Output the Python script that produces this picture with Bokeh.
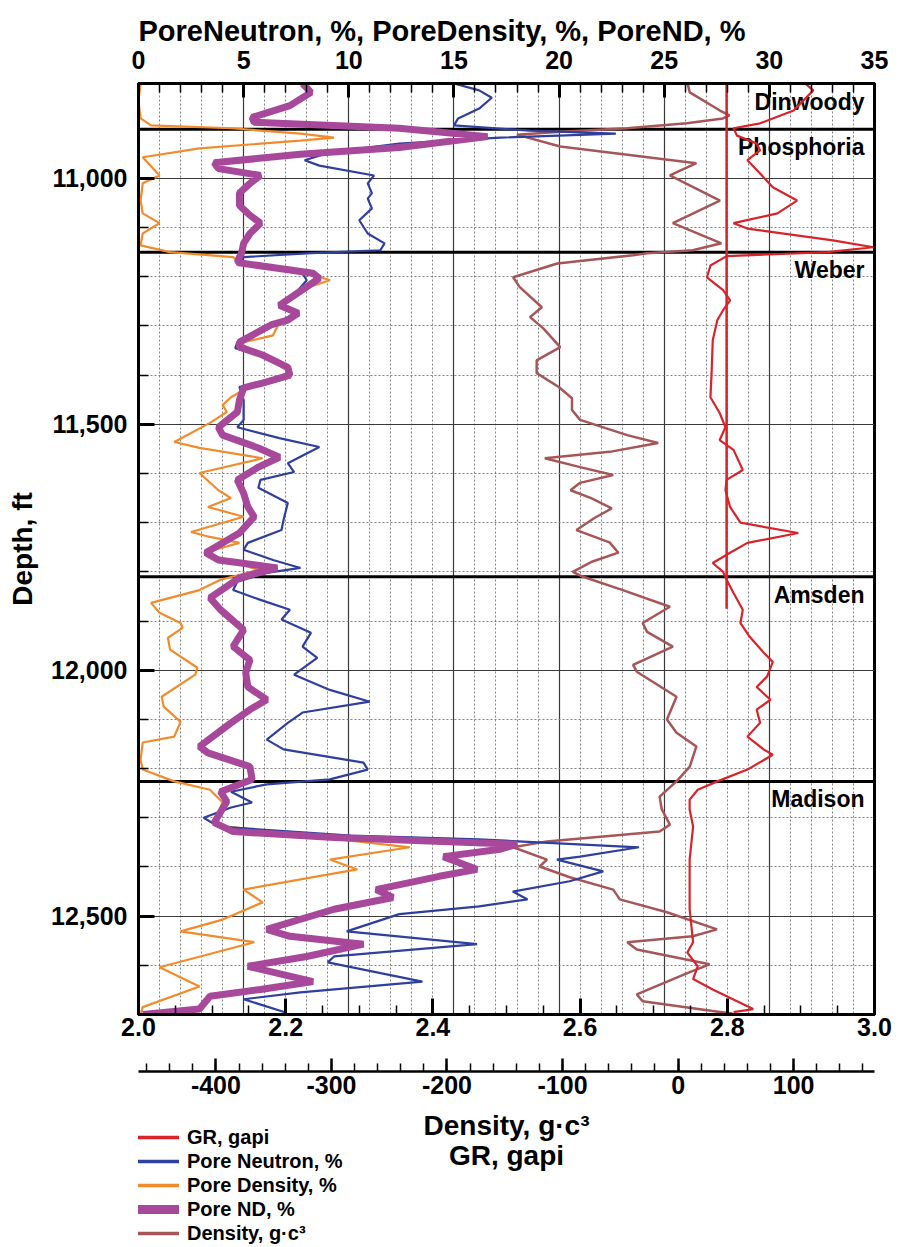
from bokeh.plotting import figure
from bokeh.layouts import column
from bokeh.models import (Range1d, LinearAxis, SingleIntervalTicker, NumeralTickFormatter,
                          Legend, LegendItem, Label)
from bokeh.core.properties import value
from bokeh.embed import file_html
from bokeh.resources import INLINE

# ---------------- data ----------------
depth_top, depth_bottom = 10807, 12700

formation_names = ["Dinwoody", "Phosphoria", "Weber", "Amsden", "Madison"]
formation_tops = [10807, 10900, 11150, 11810, 12226]

gr_cutoff_api = 42
gr_cutoff_depth = [10807, 11875]

gr_depth = [10807, 10821, 10862, 10888, 10898, 10913, 10929, 10943, 10963, 10990, 11018, 11045,
            11071, 11091, 11102, 11126, 11140, 11150, 11158, 11177, 11201, 11227, 11248, 11268,
            11288, 11329, 11396, 11445, 11477, 11506, 11532, 11552, 11593, 11613, 11634, 11668,
            11700, 11721, 11741, 11761, 11782, 11800, 11816, 11843, 11877, 11904, 11932, 11964,
            11983, 12013, 12034, 12060, 12080, 12107, 12135, 12161, 12172, 12202, 12226, 12243,
            12263, 12283, 12318, 12385, 12486, 12553, 12574, 12602, 12628, 12649, 12683, 12689,
            12695]
gr_api = [110, 117, 100, 71, 48, 51, 68, 71, 60, 71, 82, 103,
          86, 48, 60, 134, 169, 129, 42, 28, 25, 39, 45, 39,
          34, 30, 29, 28, 36, 41, 36, 48, 56, 42, 41, 45,
          54, 104, 60, 45, 30, 39, 42, 48, 56, 54, 62, 74,
          82, 77, 68, 80, 68, 71, 60, 74, 82, 60, 34, 17,
          10, 10, 13, 10, 10, 13, 8, 17, 13, 30, 60, 65,
          48]

neu_depth = [10807, 10821, 10836, 10858, 10878, 10892, 10903, 10909, 10917, 10929, 10947, 10963,
             10974, 10994, 11010, 11030, 11041, 11061, 11085, 11112, 11132, 11146, 11152, 11160,
             11171, 11193, 11207, 11227, 11258, 11274, 11298, 11302, 11333, 11345, 11359, 11384,
             11400, 11424, 11451, 11491, 11506, 11528, 11546, 11579, 11597, 11613, 11629, 11660,
             11694, 11715, 11741, 11755, 11776, 11792, 11802, 11820, 11837, 11857, 11877, 11897,
             11924, 11952, 11975, 12009, 12040, 12064, 12086, 12107, 12141, 12161, 12188, 12202,
             12222, 12232, 12247, 12269, 12279, 12300, 12318, 12336, 12344, 12360, 12379, 12385,
             12409, 12429, 12450, 12466, 12480, 12496, 12531, 12557, 12582, 12594, 12633, 12655,
             12669, 12696]
neu_pct = [15.0, 16.2, 16.8, 16.2, 15.2, 15.0, 18.6, 22.7, 17.2, 12.4, 9.1, 7.9,
           8.6, 11.2, 10.9, 11.1, 10.9, 11.1, 10.5, 10.9, 11.7, 11.5, 8.2, 5.0,
           4.8, 7.8, 8.0, 7.6, 6.8, 7.4, 6.5, 5.9, 4.7, 4.6, 5.8, 7.0,
           7.1, 4.8, 5.0, 5.0, 4.7, 6.7, 8.6, 7.1, 7.4, 5.8, 5.7, 7.1,
           6.9, 6.8, 5.2, 5.0, 6.4, 7.7, 6.1, 4.7, 4.5, 5.8, 7.2, 6.8,
           8.2, 7.8, 8.5, 7.4, 9.1, 11.0, 7.8, 7.1, 6.1, 6.9, 10.7, 10.9,
           9.1, 6.1, 4.4, 5.4, 4.4, 3.1, 3.8, 10.1, 16.2, 23.8, 21.0, 19.9,
           22.1, 20.5, 17.8, 18.5, 16.2, 12.4, 9.9, 16.1, 9.3, 9.0, 13.5, 7.7,
           5.0, 7.0]

dpor_depth = [10807, 10842, 10878, 10892, 10898, 10909, 10917, 10923, 10939, 10957, 10994, 11010,
              11045, 11071, 11091, 11112, 11136, 11150, 11160, 11171, 11187, 11207, 11227, 11258,
              11274, 11292, 11319, 11335, 11359, 11394, 11416, 11430, 11445, 11461, 11475, 11497,
              11536, 11548, 11569, 11599, 11634, 11650, 11668, 11688, 11719, 11729, 11741, 11761,
              11796, 11816, 11837, 11863, 11883, 11904, 11914, 11934, 11958, 11995, 12009, 12054,
              12074, 12105, 12135, 12147, 12182, 12202, 12226, 12243, 12269, 12308, 12318, 12360,
              12385, 12405, 12446, 12472, 12507, 12531, 12553, 12604, 12643, 12685, 12700]
dpor_pct = [0.1, 0.0, 0.1, 0.6, 4.4, 7.7, 9.3, 7.7, 2.9, 0.2, 1.0, 0.2,
            0.1, 0.2, 1.0, 0.2, 0.1, 1.5, 4.5, 4.8, 7.7, 9.1, 7.7, 6.7,
            7.6, 6.7, 6.4, 4.8, 5.9, 7.2, 5.9, 5.0, 4.4, 4.0, 4.2, 3.4,
            1.7, 2.9, 5.9, 2.9, 3.8, 4.4, 3.3, 5.0, 2.5, 3.4, 4.8, 3.1,
            5.7, 3.9, 2.9, 0.6, 1.0, 2.0, 2.1, 1.4, 1.5, 2.8, 2.7, 1.1,
            1.2, 2.0, 1.7, 0.2, 0.1, 0.2, 1.7, 3.4, 4.0, 3.6, 4.2, 12.9,
            9.1, 10.4, 5.0, 5.9, 4.0, 2.0, 5.5, 1.0, 2.9, 0.2, 0.1]

nd_depth = [10807, 10825, 10852, 10876, 10886, 10898, 10915, 10937, 10951, 10968, 10980, 10994,
            11010, 11030, 11055, 11075, 11091, 11112, 11132, 11152, 11160, 11171, 11193, 11203,
            11258, 11274, 11288, 11298, 11333, 11343, 11359, 11384, 11400, 11416, 11426, 11451,
            11475, 11506, 11522, 11548, 11567, 11587, 11613, 11640, 11668, 11688, 11721, 11761,
            11776, 11792, 11812, 11853, 11877, 11918, 11938, 11952, 11979, 12005, 12034, 12060,
            12080, 12107, 12155, 12168, 12196, 12222, 12247, 12267, 12310, 12328, 12340, 12354,
            12364, 12379, 12405, 12419, 12446, 12462, 12486, 12527, 12541, 12557, 12582, 12602,
            12633, 12649, 12663, 12689, 12700]
nd_pct = [7.8, 8.2, 7.2, 5.4, 5.5, 12.4, 16.6, 12.4, 7.7, 3.6, 3.8, 5.8,
          5.3, 4.8, 4.8, 5.3, 5.8, 5.3, 5.0, 4.9, 4.8, 4.7, 8.3, 8.6,
          6.7, 7.6, 7.1, 6.3, 4.8, 4.8, 5.9, 7.1, 7.2, 5.9, 5.0, 4.8,
          4.7, 3.8, 4.0, 5.7, 6.7, 5.7, 4.7, 5.0, 5.2, 5.5, 4.8, 3.2,
          3.8, 6.6, 4.8, 3.4, 3.9, 5.0, 4.7, 4.5, 5.3, 5.1, 5.2, 6.1,
          5.3, 4.4, 2.9, 3.3, 5.3, 5.4, 3.9, 4.2, 3.6, 4.5, 9.3, 18.0,
          17.2, 14.5, 16.1, 14.3, 11.3, 12.1, 9.3, 6.1, 7.2, 10.7, 8.0, 5.2,
          8.3, 5.8, 3.4, 2.9, 0.2]

rhob_depth = [10807, 10825, 10862, 10872, 10878, 10888, 10898, 10905, 10911, 10935, 10969, 10994,
              11045, 11091, 11132, 11146, 11152, 11156, 11173, 11201, 11221, 11262, 11282, 11305,
              11343, 11370, 11396, 11424, 11447, 11471, 11491, 11522, 11538, 11556, 11569, 11587,
              11603, 11619, 11634, 11650, 11671, 11690, 11715, 11740, 11761, 11780, 11800, 11810,
              11837, 11871, 11904, 11922, 11952, 11989, 12003, 12054, 12100, 12127, 12155, 12196,
              12226, 12257, 12283, 12314, 12328, 12348, 12360, 12385, 12399, 12421, 12446, 12466,
              12492, 12527, 12541, 12553, 12568, 12598, 12614, 12659, 12673, 12693, 12698]
rhob = [2.746, 2.749, 2.790, 2.803, 2.794, 2.745, 2.664, 2.573, 2.514, 2.573, 2.758, 2.722,
        2.790, 2.726, 2.792, 2.753, 2.691, 2.672, 2.569, 2.509, 2.518, 2.548, 2.532, 2.550,
        2.573, 2.541, 2.541, 2.571, 2.589, 2.589, 2.600, 2.664, 2.706, 2.640, 2.552, 2.600,
        2.645, 2.600, 2.587, 2.615, 2.643, 2.620, 2.595, 2.640, 2.652, 2.615, 2.590, 2.604,
        2.658, 2.722, 2.685, 2.691, 2.726, 2.672, 2.677, 2.731, 2.718, 2.731, 2.758, 2.749,
        2.731, 2.708, 2.711, 2.722, 2.708, 2.555, 2.509, 2.555, 2.545, 2.586, 2.645, 2.654,
        2.718, 2.786, 2.753, 2.664, 2.677, 2.776, 2.749, 2.677, 2.685, 2.780, 2.807]

top_title = "PoreNeutron, %, PoreDensity, %, PoreND, %"
legend_labels = ["GR, gapi", "Pore Neutron, %", "Pore Density, %", "Pore ND, %",
                 "Density, g\u00b7c\u00b3"]
bottom_title = ["Density, g\u00b7c\u00b3", "GR, gapi"]

# ---------------- styling ----------------
FONT = "Liberation Sans"
C_GR, C_NEU, C_DPOR, C_ND, C_RHOB = "#d8232a", "#2e3f9e", "#f28b2c", "#a8489b", "#a65656"
W = 898
H_MAIN = 1106
H_LEG = 1247 - H_MAIN
FRAME_LEFT = 138

p = figure(width=W, height=H_MAIN, output_backend="svg", toolbar_location=None,
           x_range=Range1d(0, 35), y_range=Range1d(depth_bottom, depth_top),
           x_axis_location="above",
           min_border_left=FRAME_LEFT, min_border_right=24, min_border_top=83,
           min_border_bottom=H_MAIN - 1014)
p.extra_x_ranges = {"dens": Range1d(2.0, 3.0), "gr": Range1d(-467, 170)}
p.background_fill_color = "white"
p.border_fill_color = "white"
p.outline_line_color = "black"
p.outline_line_width = 3

p.title.text = top_title
p.title.align = "left"
p.title.offset = 0
p.title.standoff = 2
p.title.text_font = FONT
p.title.text_font_style = "bold"
p.title.text_font_size = "29px"
p.title.text_color = "black"

# top axis: porosity
ax = p.xaxis[0]
ax.ticker = SingleIntervalTicker(interval=5, num_minor_ticks=5)

# left axis: depth
ay = p.yaxis[0]
ay.ticker = SingleIntervalTicker(interval=500, num_minor_ticks=5)
ay.formatter = NumeralTickFormatter(format="0,0")
ay.axis_label = "Depth, ft"

dens_axis = LinearAxis(x_range_name="dens",
                       ticker=SingleIntervalTicker(interval=0.2, num_minor_ticks=4),
                       formatter=NumeralTickFormatter(format="0.0"))
dens_axis.axis_label = "\u00a0"
gr_axis = LinearAxis(x_range_name="gr",
                     ticker=SingleIntervalTicker(interval=100, num_minor_ticks=5),
                     formatter=NumeralTickFormatter(format="0"))
p.add_layout(dens_axis, "below")
p.add_layout(gr_axis, "below")

for a in (ax, ay, dens_axis, gr_axis):
    a.major_label_text_font = FONT
    a.major_label_text_font_style = "bold"
    a.major_label_text_font_size = "25px"
    a.major_label_text_color = "black"
    a.axis_label_text_font = FONT
    a.axis_label_text_font_style = "bold"
    a.axis_label_text_font_size = "28px"
    a.axis_label_text_color = "black"
    a.axis_line_color = "black"
    a.axis_line_width = 3
    a.major_tick_line_color = "black"
    a.minor_tick_line_color = "black"
    a.major_tick_out = 0
    a.minor_tick_out = 0
    a.major_tick_line_width = 3
    a.minor_tick_line_width = 1.5

ax.major_tick_in = 14
ax.minor_tick_in = 9
ax.major_label_standoff = 15

ay.major_tick_in = 16
ay.minor_tick_in = 10
ay.major_label_standoff = 11
ay.axis_label_standoff = 10

dens_axis.major_tick_in = 16
dens_axis.minor_tick_in = 9
dens_axis.major_label_standoff = 3
dens_axis.axis_label_standoff = 0
dens_axis.axis_label_text_font_size = "26px"

gr_axis.major_tick_in = 13
gr_axis.minor_tick_in = 8
gr_axis.major_tick_line_width = 2.5
gr_axis.axis_line_width = 2.5
gr_axis.major_label_standoff = 4

# grids
for g in (p.xgrid[0], p.ygrid[0]):
    g.grid_line_color = "#3a3a3a"
    g.grid_line_width = 1.2
    g.minor_grid_line_color = "#808080"
    g.minor_grid_line_width = 1
    g.minor_grid_line_dash = "2 2"

# formation tops
p.segment(x0=0, x1=35, y0=formation_tops[1:], y1=formation_tops[1:],
          line_color="black", line_width=3)
p.text(x=35, y=formation_tops, text=formation_names, x_offset=-10, y_offset=18,
       text_align="right", text_baseline="middle", text_font=value(FONT),
       text_font_style="bold", text_font_size="23px", text_color="black")

# curves
p.line(rhob, rhob_depth, x_range_name="dens", line_color=C_RHOB, line_width=2.5)
p.line(dpor_pct, dpor_depth, line_color=C_DPOR, line_width=2.2)
p.line(neu_pct, neu_depth, line_color=C_NEU, line_width=2.2)
p.line(nd_pct, nd_depth, line_color=C_ND, line_width=7)
p.line(gr_api, gr_depth, x_range_name="gr", line_color=C_GR, line_width=2.2)
p.line([gr_cutoff_api, gr_cutoff_api], gr_cutoff_depth, x_range_name="gr",
       line_color=C_GR, line_width=2.5)

# ---------------- lower strip: legend + bottom axis title ----------------
# (its frame is aligned by the column layout with the main frame, left edge at FRAME_LEFT)
q = figure(width=W, height=H_LEG, output_backend="svg", toolbar_location=None,
           x_range=Range1d(0, 1), y_range=Range1d(0, 1),
           x_axis_location=None, y_axis_location=None,
           min_border_left=FRAME_LEFT, min_border_right=24, min_border_top=0, min_border_bottom=0)
q.outline_line_color = None
q.grid.visible = False
q.background_fill_color = "white"
q.border_fill_color = "white"

leg_series = [(gr_api, gr_depth), (neu_pct, neu_depth), (dpor_pct, dpor_depth),
              (nd_pct, nd_depth), (rhob, rhob_depth)]
leg_colors = [C_GR, C_NEU, C_DPOR, C_ND, C_RHOB]
leg_widths = [3.5, 3.5, 3.5, 9, 3.5]
items = []
for lab, (xs, ys), col, lw in zip(legend_labels, leg_series, leg_colors, leg_widths):
    r = q.line(xs, ys, line_color=col, line_width=lw, visible=False)
    items.append(LegendItem(label=lab, renderers=[r]))

legend = Legend(items=items, location=(-2, 2))
legend.border_line_alpha = 0
legend.background_fill_alpha = 0
legend.inactive_fill_alpha = 0
legend.padding = 0
legend.margin = 0
legend.spacing = 0
legend.glyph_width = 43
legend.glyph_height = 24
legend.label_height = 24
legend.label_standoff = 8
legend.label_text_font = FONT
legend.label_text_font_style = "bold"
legend.label_text_font_size = "20px"
legend.label_text_color = "black"
q.add_layout(legend, "center")

frame_w = W - FRAME_LEFT - 24
for txt, yy in zip(bottom_title, [H_LEG - 19, H_LEG - 49]):
    q.add_layout(Label(x=frame_w / 2, y=yy, x_units="screen", y_units="screen", text=txt,
                       text_align="center", text_baseline="middle",
                       text_font=FONT, text_font_style="bold",
                       text_font_size="28px", text_color="black"))

layout = column(p, q, spacing=0)
open("out.html", "w").write(file_html(layout, INLINE))
